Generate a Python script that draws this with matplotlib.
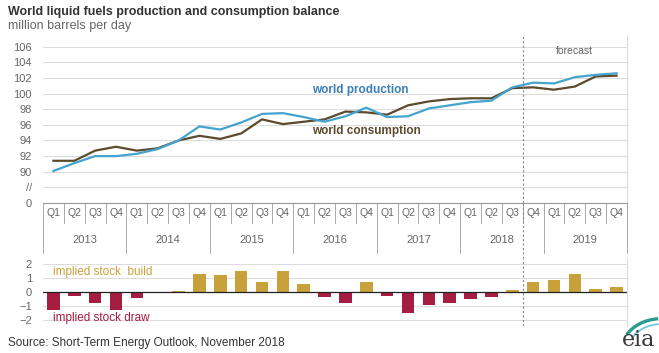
import matplotlib

matplotlib.use("Agg")
import matplotlib.pyplot as plt
from matplotlib.patches import Arc

plt.rcParams["font.family"] = ["Liberation Sans", "DejaVu Sans"]

# quarterly values, 2013 Q1 .. 2019 Q4 (million barrels per day)
years = ["2013", "2014", "2015", "2016", "2017", "2018", "2019"]
quarters = ["Q1", "Q2", "Q3", "Q4"]
production = [90.1, 91.1, 92.0, 92.0, 92.3, 92.9, 94.0, 95.8, 95.4, 96.3, 97.4, 97.5, 97.0, 96.4,
              97.1, 98.2, 97.0, 97.1, 98.1, 98.5, 98.9, 99.1, 100.8, 101.4, 101.3, 102.1, 102.4, 102.6]
consumption = [91.4, 91.4, 92.7, 93.2, 92.7, 93.0, 94.0, 94.6, 94.2, 94.9, 96.7, 96.1, 96.4, 96.7,
               97.7, 97.6, 97.3, 98.5, 99.0, 99.3, 99.4, 99.4, 100.7, 100.8, 100.5, 100.9, 102.2, 102.3]
stock_change = [-1.3, -0.3, -0.75, -1.25, -0.4, -0.05, 0.05, 1.3, 1.2, 1.5, 0.7, 1.45, 0.6, -0.35,
                -0.8, 0.7, -0.3, -1.5, -0.95, -0.8, -0.5, -0.35, 0.15, 0.7, 0.85, 1.25, 0.2, 0.35]
forecast_start = 23  # first forecast quarter index (2018 Q4)

top_ticks = [86, 88, 90, 92, 94, 96, 98, 100, 102, 104, 106]
top_ticklabels = ["0", "//", "90", "92", "94", "96", "98", "100", "102", "104", "106"]
bottom_ticks = [-2, -1, 0, 1, 2]

BLUE = "#45a3d0"
BROWN = "#5b4a2c"
GOLD = "#c9a13a"
RED = "#a51d40"
GRID = "#dcdcdc"
TEXT = "#333333"
MUTED = "#666666"

W, H = 659, 353


def box(left, top, right, bottom):
    return [left / W, 1 - bottom / H, (right - left) / W, (bottom - top) / H]


fig = plt.figure(figsize=(W / 100, H / 100), dpi=100)
fig.patch.set_facecolor("white")

n = len(production)
xs = list(range(n))
fx = forecast_start - 0.5

# --- upper panel: production and consumption ---
ax = fig.add_axes(box(43, 35, 627, 203))
ax.set_xlim(-0.5, n - 0.5)
ax.set_ylim(86, 107.5)
ax.set_yticks(top_ticks)
ax.set_yticklabels(top_ticklabels)
ax.tick_params(axis="y", length=0, labelsize=8, colors=MUTED, pad=8)
ax.set_xticks([])
ax.grid(axis="y", color=GRID, linewidth=0.8)
ax.set_axisbelow(True)
for side in ("top", "left"):
    ax.spines[side].set_visible(False)
ax.spines["right"].set_color(GRID)
ax.spines["bottom"].set_color("#999999")

ax.plot(xs, consumption, color=BROWN, linewidth=1.6)
ax.plot(xs, production, color=BLUE, linewidth=1.6)
ax.axvline(fx, color="#888888", linestyle=(0, (2, 2)), linewidth=0.8)

ax.text(12.4, 100.5, "world production", color="#3b7fb8", fontsize=8.5,
        fontweight="bold", va="center")
ax.text(12.4, 95.2, "world consumption", color=BROWN, fontsize=8.5,
        fontweight="bold", va="center")
ax.text((fx + n - 0.5) / 2, 105.4, "forecast", color=MUTED, fontsize=7.5,
        ha="center", va="center")

# category strip below the upper panel
trans = ax.get_xaxis_transform()
h = 168.0
for i in range(n):
    ax.text(i, -10 / h, quarters[i % 4], transform=trans, ha="center", va="center",
            fontsize=7.5, color=MUTED)
for k, yr in enumerate(years):
    ax.text(4 * k + 1.5, -37 / h, yr, transform=trans, ha="center", va="center",
            fontsize=8, color=MUTED)
for b in range(n + 1):
    x = b - 0.5
    y_end = -50 / h if b % 4 == 0 else -20 / h
    ax.plot([x, x], [0, y_end], transform=trans, color="#aaaaaa", linewidth=0.7,
            clip_on=False)
ax.plot([fx, fx], [0, -55 / h], transform=trans, color="#888888",
        linestyle=(0, (2, 2)), linewidth=0.8, clip_on=False)

# --- lower panel: implied stock change ---
bx = fig.add_axes(box(43, 258, 627, 326))
bx.set_xlim(-0.5, n - 0.5)
bx.set_ylim(-2.4, 2.4)
bx.set_yticks(bottom_ticks)
bx.tick_params(axis="y", length=0, labelsize=8, colors=MUTED, pad=8)
bx.set_xticks([])
bx.grid(axis="y", color=GRID, linewidth=0.8)
bx.set_axisbelow(True)
for side in ("top", "left", "bottom"):
    bx.spines[side].set_visible(False)
bx.spines["right"].set_color(GRID)

colors = [GOLD if v >= 0 else RED for v in stock_change]
bx.bar(xs, stock_change, width=0.6, color=colors)
bx.axhline(0, color="#222222", linewidth=0.9)
bx.axvline(fx, color="#888888", linestyle=(0, (2, 2)), linewidth=0.8)

bx.text(0, 1.4, "implied stock  build", color=GOLD, fontsize=8.5, va="center")
bx.text(0, -1.85, "implied stock draw", color=RED, fontsize=8.5, va="center")

# --- titles, source and logo ---
fig.text(8 / W, 1 - 12 / H, "World liquid fuels production and consumption balance",
         fontsize=9, fontweight="bold", color=TEXT, va="center")
fig.text(8 / W, 1 - 26 / H, "million barrels per day", fontsize=9, color=MUTED,
         va="center")
fig.text(8 / W, 1 - 343 / H, "Source: Short-Term Energy Outlook, November 2018",
         fontsize=8.5, color=TEXT, va="center")

logo = fig.add_axes(box(605, 310, 659, 353))
logo.set_xlim(0, 1)
logo.set_ylim(0, 1)
logo.axis("off")
logo.add_patch(Arc((1.05, 0.05), 1.5, 1.5, theta1=95, theta2=150, color="#2a9d8f",
                   linewidth=2.4))
logo.add_patch(Arc((1.05, 0.05), 1.25, 1.25, theta1=95, theta2=150, color="#7cc6e4",
                   linewidth=1.4))
logo.text(0.62, 0.3, "eia", family="DejaVu Serif", fontsize=16, color="#3a3a3a",
          ha="center", va="center")

fig.savefig("out.png", dpi=100, facecolor="white")
